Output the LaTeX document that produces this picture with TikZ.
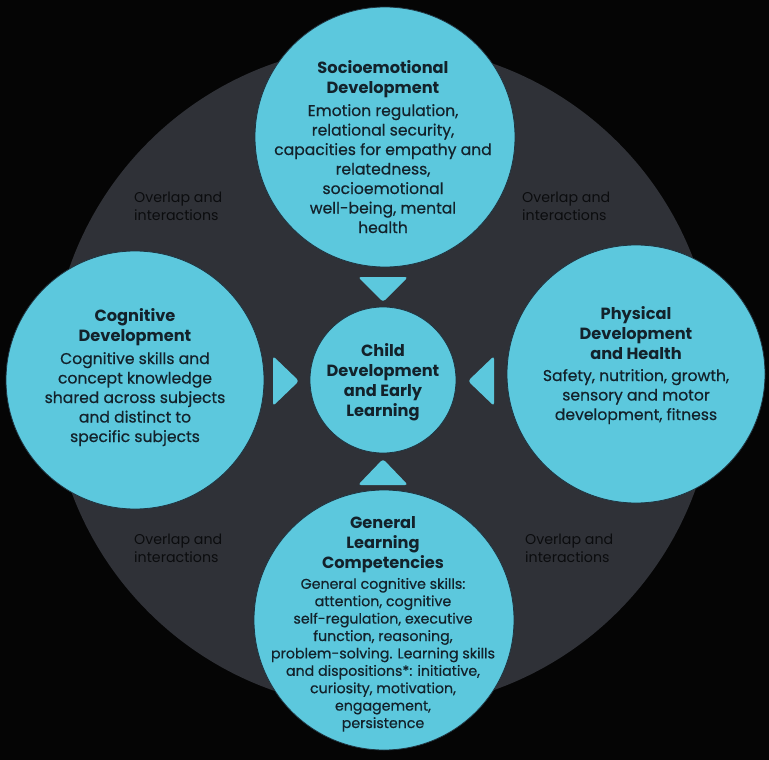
\documentclass[tikz,border=0pt]{standalone}
\usepackage{fontspec}
\setmainfont{Poppins}
\newfontfamily\medf[FakeBold=0.5]{Poppins}
\definecolor{bgc}{HTML}{050505}
\definecolor{ringc}{HTML}{2F3137}
\definecolor{bluec}{HTML}{5CC8DD}
\definecolor{edgec}{HTML}{1F3440}
\definecolor{txtc}{HTML}{13222B}
\definecolor{ovc}{HTML}{0B0C0E}
\tikzset{
  bubble/.style={circle, fill=bluec, draw=edgec, line width=0.8pt, inner sep=0pt},
  pointer/.style={fill=bluec, rounded corners=3pt},
  ttl/.style={anchor=base, align=center, text=txtc, inner sep=0pt, font=\fontsize{16.2}{20}\selectfont\bfseries},
  bod/.style={anchor=base, align=center, text=txtc, inner sep=0pt, font=\fontsize{15.6}{19.5}\selectfont\medf},
  bods/.style={anchor=base, align=center, text=txtc, inner sep=0pt, font=\fontsize{14.2}{17.4}\selectfont\medf},
  ovl/.style={anchor=base west, align=left, text=ovc, font=\fontsize{14.2}{17.5}\selectfont, inner sep=0pt}
}
\begin{document}
\begin{tikzpicture}[x=1pt,y=-1pt]
\useasboundingbox (0,0) rectangle (769,760);
\fill[bgc] (0,0) rectangle (769,760);
\node[circle, fill=ringc, minimum size=664pt, inner sep=0pt] (ring) at (383,377) {};
\node[bubble, minimum size=260pt] (soc) at (385,137) {};
\node[bubble, minimum size=258pt] (cog) at (135,380) {};
\node[bubble, minimum size=258pt] (phy) at (636,374) {};
\node[bubble, minimum size=260pt] (gen) at (384,620) {};
\node[bubble, minimum size=146pt] (child) at (383,380) {};
% pointers
\fill[pointer] (358,277) -- (408,277) -- (383,302) -- cycle;
\fill[pointer] (358,485) -- (408,485) -- (383,459) -- cycle;
\fill[pointer] (273,356) -- (273,406) -- (299,381) -- cycle;
\fill[pointer] (494,356) -- (494,406) -- (468,381) -- cycle;
% texts (anchor = baseline of the last line)
\node[ttl] (socT) at (383,93) {Socioemotional\\Development};
\node[bod] (socB) at (383,233) {Emotion regulation,\\relational security,\\capacities for empathy and\\relatedness,\\socioemotional\\well-being, mental\\health};
\node[ttl] (childT) at (383,416) {Child\\Development\\and Early\\Learning};
\node[ttl] (cogT) at (135,341) {Cognitive\\Development};
\node[bod] (cogB) at (135,442) {Cognitive skills and\\concept knowledge\\shared across subjects\\and distinct to\\specific subjects};
\node[ttl] (phyT) at (636,359) {Physical\\Development\\and Health};
\node[bod] (phyB) at (636,420) {Safety, nutrition, growth,\\sensory and motor\\development, fitness};
\node[ttl] (genT) at (383,568) {General\\Learning\\Competencies};
\node[bods] (genB) at (383,728) {General cognitive skills:\\attention, cognitive\\self-regulation, executive\\function, reasoning,\\problem-solving. Learning skills\\and dispositions*: initiative,\\curiosity, motivation,\\engagement,\\persistence};
\node[ovl] (ov1) at (134,220) {Overlap and\\interactions};
\node[ovl] (ov2) at (522,220) {Overlap and\\interactions};
\node[ovl] (ov3) at (134,562) {Overlap and\\interactions};
\node[ovl] (ov4) at (525,562) {Overlap and\\interactions};
\end{tikzpicture}
\end{document}
